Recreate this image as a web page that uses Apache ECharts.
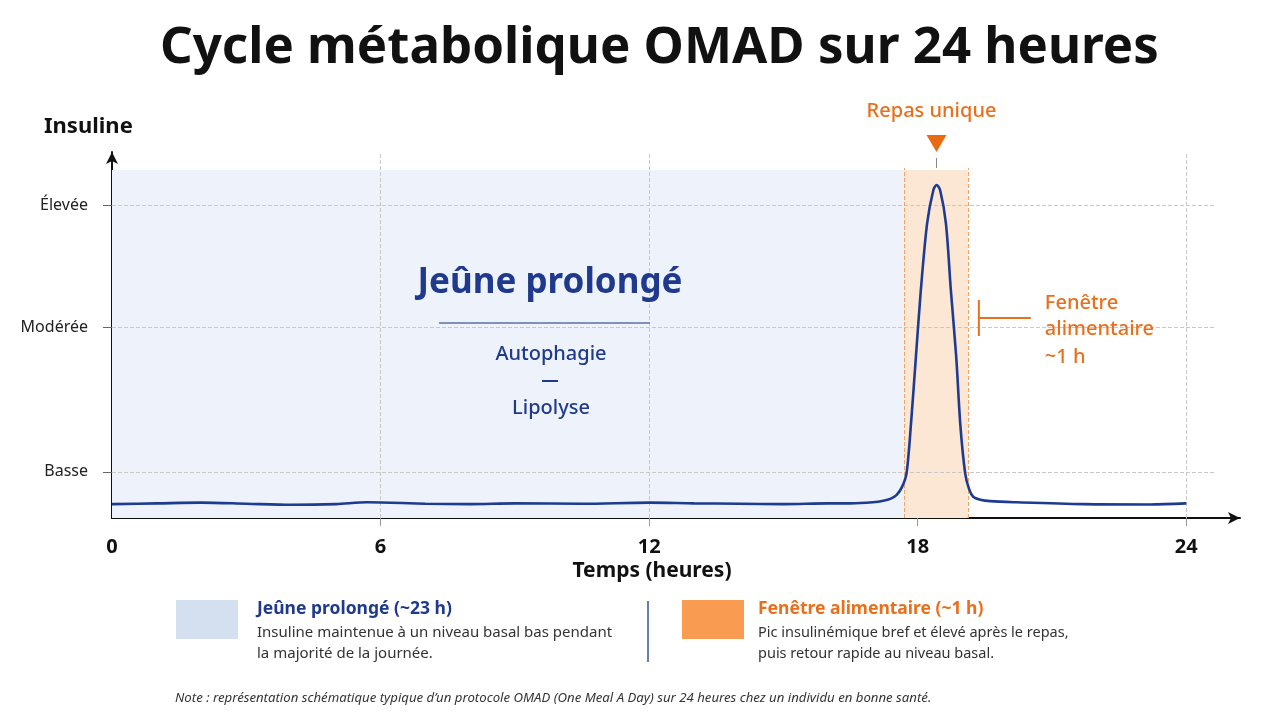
<!DOCTYPE html>
<html>
<head>
<meta charset="utf-8">
<script src="https://cdn.jsdelivr.net/npm/echarts@6/dist/echarts.min.js"></script>
<style>
html, body { margin: 0; background: #fff; }
#main { width: 1280px; height: 720px; }
</style>
</head>
<body>
<div id="main"></div>
<script>
// données (heures -> niveau d'insuline, échelle 0-100)
var hours   = [0, 1, 2, 3, 4, 5, 5.7, 7, 8, 9, 10.5, 12, 13, 14, 15, 16, 16.5, 17.0, 17.23, 17.4, 17.53, 17.65, 17.75, 17.85, 17.96, 18.07, 18.21, 18.35, 18.42, 18.5, 18.63, 18.74, 18.86, 18.95, 19.06, 19.15, 19.24, 19.4, 19.62, 20.21, 21.7, 23.19, 24];
var insulin = [3.8, 4.0, 4.2, 3.9, 3.6, 3.8, 4.3, 3.9, 3.8, 4.0, 3.9, 4.2, 4.0, 3.9, 3.8, 4.0, 4.0, 4.3, 4.7, 5.3, 6.3, 8.5, 12.2, 25.8, 44.1, 62.3, 80.5, 89.6, 91, 89.6, 80.5, 62.3, 44.1, 25.8, 12.2, 7.8, 5.8, 5.0, 4.6, 4.3, 3.8, 3.7, 4.0];

var levelValues = [12.6, 52.2, 85.5];
var levelLabels = ['Basse', 'Modérée', 'Élevée'];
var xTicks = [0, 6, 12, 18, 24];
var xGrid = [6, 12, 24];
var fastRange = [0, 17.7];
var mealRange = [17.7, 19.12];
var peakHour = 18.42;
var bandTop = 95.1;

var navy = '#1f3a8c';
var orange = '#e8701c';
var font = 'Noto Sans';

var chart = echarts.init(document.getElementById('main'));

var option = {
  backgroundColor: '#fff',
  animation: false,
  textStyle: { fontFamily: font },
  title: {
    text: 'Cycle métabolique OMAD sur 24 heures',
    left: 155, top: 18,
    textStyle: { fontSize: 51, fontWeight: 'bold', color: '#111', fontFamily: font }
  },
  grid: { left: 112, right: 40, top: 152, bottom: 202, outerBoundsMode: 'none' },
  xAxis: {
    type: 'value', min: 0, max: 25.2,
    axisLine: { lineStyle: { color: '#111', width: 2 }, symbol: ['none', 'arrow'], symbolSize: [9, 12] },
    axisTick: { show: true, customValues: [6, 12, 18, 24], length: 8, lineStyle: { color: '#999' } },
    axisLabel: {
      customValues: xTicks, margin: 19,
      fontSize: 20, fontWeight: 'bold', color: '#111'
    },
    splitLine: { show: false }
  },
  yAxis: {
    type: 'value', min: 0, max: 100,
    axisLine: { show: true, lineStyle: { color: '#111', width: 2 }, symbol: ['none', 'arrow'], symbolSize: [9, 12] },
    axisTick: { show: true, customValues: levelValues, length: 9, lineStyle: { color: '#666' } },
    axisLabel: {
      customValues: levelValues, margin: 24, fontSize: 16, color: '#222',
      formatter: function (v) {
        var i = levelValues.indexOf(v);
        return i >= 0 ? levelLabels[i] : '';
      }
    },
    splitLine: { show: false }
  },
  series: [
    {
      // zones de fond
      type: 'line', data: [], z: 1, silent: true,
      markArea: {
        silent: true, z: 1,
        data: [
          [{ coord: [fastRange[0], 0], itemStyle: { color: '#eef2fa' } }, { coord: [fastRange[1], bandTop] }],
          [{ coord: [mealRange[0], 0], itemStyle: { color: '#fce6d4' } }, { coord: [mealRange[1], bandTop] }]
        ]
      }
    },
    {
      // grille pointillée
      type: 'line', data: [], z: 2, silent: true,
      markLine: {
        silent: true, symbol: 'none', label: { show: false }, z: 2,
        lineStyle: { type: 'dashed', color: '#c8c8c8', width: 1 },
        data: levelValues.map(function (v) { return [{ coord: [0, v] }, { coord: [24.64, v] }]; })
          .concat(xGrid.map(function (h) { return [{ coord: [h, 0] }, { coord: [h, 100] }]; }))
          .concat(mealRange.map(function (h) {
            return [{ coord: [h, 0], lineStyle: { color: '#f0a468', type: 'dashed', width: 1 } }, { coord: [h, bandTop + 0.5] }];
          }))
      }
    },
    {
      name: 'Insuline', type: 'line', z: 10,
      data: hours.map(function (h, i) { return [h, insulin[i]]; }),
      smooth: 0.3,
      showSymbol: false,
      lineStyle: { color: '#1d3b91', width: 2.6 }
    }
  ]
};
chart.setOption(option);

var pk = chart.convertToPixel({ gridIndex: 0 }, [peakHour, 0]);
var me = chart.convertToPixel({ gridIndex: 0 }, [mealRange[1], 0]);
var bx = me[0] + 11;

function txt(x, y, text, size, weight, fill, align, extra) {
  var st = { text: text, fontSize: size, fontWeight: weight, fill: fill, fontFamily: font, align: align || 'left', verticalAlign: 'middle' };
  if (extra) { for (var k in extra) st[k] = extra[k]; }
  return { type: 'text', x: x, y: y, z: 50, style: st };
}

chart.setOption({
  graphic: [
    txt(44, 127, 'Insuline', 22, 'bold', '#111'),
    txt(652, 571, 'Temps (heures)', 21, 'bold', '#111', 'center'),
    // annotation repas
    txt(pk[0] - 5, 111, 'Repas unique', 20, 500, orange, 'center'),
    { type: 'polygon', z: 50, shape: { points: [[pk[0] - 10, 135], [pk[0] + 10, 135], [pk[0], 152]] }, style: { fill: '#ea6a12' } },
    { type: 'line', z: 50, shape: { x1: pk[0], y1: 158, x2: pk[0], y2: 168 }, style: { stroke: '#888', lineWidth: 1 } },
    // fenêtre alimentaire
    { type: 'line', z: 50, shape: { x1: bx, y1: 300, x2: bx, y2: 336 }, style: { stroke: orange, lineWidth: 2 } },
    { type: 'line', z: 50, shape: { x1: bx, y1: 318, x2: bx + 52, y2: 318 }, style: { stroke: orange, lineWidth: 2 } },
    txt(bx + 66, 303, 'Fenêtre', 20, 500, orange),
    txt(bx + 66, 329, 'alimentaire', 20, 500, orange),
    txt(bx + 66, 357, '~1 h', 20, 500, orange),
    // jeûne prolongé
    txt(550, 283, 'Jeûne prolongé', 35, 'bold', navy, 'center'),
    { type: 'line', z: 50, shape: { x1: 439, y1: 323, x2: 650, y2: 323 }, style: { stroke: '#5a6fa8', lineWidth: 1.5 } },
    txt(551, 354, 'Autophagie', 20, 500, navy, 'center'),
    { type: 'line', z: 50, shape: { x1: 542, y1: 381, x2: 558, y2: 381 }, style: { stroke: navy, lineWidth: 2 } },
    txt(551, 408, 'Lipolyse', 20, 500, navy, 'center'),
    // légende
    { type: 'rect', z: 50, shape: { x: 176, y: 600, width: 62, height: 39 }, style: { fill: '#d4e0f0' } },
    txt(257, 609, 'Jeûne prolongé (~23 h)', 17.5, 'bold', navy),
    txt(257, 633, 'Insuline maintenue à un niveau basal bas pendant', 15, 'normal', '#333'),
    txt(257, 654, 'la majorité de la journée.', 15, 'normal', '#333'),
    { type: 'line', z: 50, shape: { x1: 648, y1: 601, x2: 648, y2: 662 }, style: { stroke: '#3a4f9a', lineWidth: 1.5 } },
    { type: 'rect', z: 50, shape: { x: 682, y: 600, width: 62, height: 39 }, style: { fill: '#fa9b52' } },
    txt(758, 609, 'Fenêtre alimentaire (~1 h)', 17.5, 'bold', orange),
    txt(758, 633, 'Pic insulinémique bref et élevé après le repas,', 14.5, 'normal', '#333'),
    txt(758, 654, 'puis retour rapide au niveau basal.', 14.5, 'normal', '#333'),
    // note
    txt(175, 698, 'Note : représentation schématique typique d\u2019un protocole OMAD (One Meal A Day) sur 24 heures chez un individu en bonne santé.', 13.2, 'normal', '#333', 'left', { fontStyle: 'italic' })
  ]
});
</script>
</body>
</html>
